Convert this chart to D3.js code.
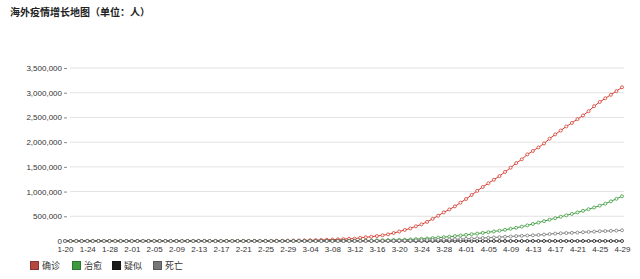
<!DOCTYPE html>
<html>
<head>
<meta charset="utf-8">
<script src="https://cdn.jsdelivr.net/npm/d3@7"></script>
<style>
  body { margin: 0; background: #fff; }
  svg { display: block; font-family: "Liberation Sans", Arial, "Noto Sans CJK SC", sans-serif; }
  .title { font-family: "Noto Sans CJK SC", sans-serif; font-weight: bold; }
  .legend text { font-family: "Noto Sans CJK SC", sans-serif; }
</style>
</head>
<body>
<script>
// dates (2020-01-20 .. 2020-04-29)
var dates = [
  "1-20","1-21","1-22","1-23","1-24","1-25","1-26","1-27","1-28","1-29","1-30","1-31",
  "2-01","2-02","2-03","2-04","2-05","2-06","2-07","2-08","2-09","2-10","2-11","2-12","2-13","2-14","2-15",
  "2-16","2-17","2-18","2-19","2-20","2-21","2-22","2-23","2-24","2-25","2-26","2-27","2-28","2-29",
  "3-01","3-02","3-03","3-04","3-05","3-06","3-07","3-08","3-09","3-10","3-11","3-12","3-13","3-14","3-15",
  "3-16","3-17","3-18","3-19","3-20","3-21","3-22","3-23","3-24","3-25","3-26","3-27","3-28","3-29","3-30","3-31",
  "4-01","4-02","4-03","4-04","4-05","4-06","4-07","4-08","4-09","4-10","4-11","4-12","4-13","4-14","4-15",
  "4-16","4-17","4-18","4-19","4-20","4-21","4-22","4-23","4-24","4-25","4-26","4-27","4-28","4-29"
];

var confirmed = [
  4, 6, 7, 10, 20, 29, 40, 47, 57, 69, 83, 111,
  132, 148, 153, 172, 196, 214, 269, 288, 307, 320, 393, 441, 447, 505, 526,
  685, 794, 804, 924, 1073, 1200, 1402, 1769, 2069, 2459, 2918, 3664, 4691, 6655,
  8437, 10170, 12579, 14734, 17345, 21094, 25051, 28972, 32701, 37705, 44944, 47411, 64248, 75117, 86443,
  100494, 116084, 133808, 161552, 190916, 223219, 254520, 296733, 336450, 385992, 447809, 511394, 578694, 638018, 700191, 775208,
  850244, 931034, 1013406, 1093517, 1167152, 1238816, 1313758, 1397393, 1482395, 1574585, 1652636, 1751587, 1821625, 1892885, 1972698,
  2069034, 2156430, 2233971, 2317573, 2388442, 2465441, 2540200, 2625001, 2727294, 2812837, 2887563, 2957846, 3032458, 3109942
];

var recovered = [
  0, 0, 0, 0, 0, 0, 0, 1, 1, 2, 3, 5,
  6, 7, 8, 10, 12, 15, 18, 22, 26, 30, 35, 40, 46, 55, 62,
  70, 80, 100, 120, 150, 180, 220, 260, 300, 350, 420, 500, 600, 720,
  900, 1200, 1500, 1900, 2300, 2800, 3300, 3900, 4500, 5200, 6000, 7000, 8200, 9500, 11000,
  12500, 14500, 17000, 20000, 23000, 27000, 31000, 37000, 44000, 51000, 59000, 68000, 78000, 88000, 99000, 111000,
  124000, 137000, 150000, 164000, 178000, 193000, 209000, 227000, 247000, 268000, 291000, 316000, 344000, 373000, 402000,
  431000, 461000, 491000, 520000, 548000, 578000, 610000, 643000, 678000, 715000, 755000, 802000, 853000, 905000
];

var suspected = [
  0, 0, 0, 0, 0, 0, 0, 0, 0, 0, 0, 0,
  0, 0, 0, 0, 0, 0, 0, 0, 0, 0, 0, 0, 0, 0, 0,
  0, 0, 0, 0, 0, 0, 0, 0, 0, 0, 0, 0, 0, 0,
  0, 0, 0, 0, 0, 0, 0, 0, 0, 0, 0, 0, 0, 0, 0,
  0, 0, 0, 0, 0, 0, 0, 0, 0, 0, 0, 0, 0, 0, 0, 0,
  0, 0, 0, 0, 0, 0, 0, 0, 0, 0, 0, 0, 0, 0, 0,
  0, 0, 0, 0, 0, 0, 0, 0, 0, 0, 0, 0, 0, 0
];

var deaths = [
  0, 0, 0, 0, 0, 0, 0, 0, 0, 0, 0, 0,
  0, 1, 1, 1, 1, 1, 1, 1, 1, 1, 1, 1, 1, 2, 3,
  3, 3, 3, 5, 8, 11, 15, 20, 25, 35, 45, 60, 70, 86,
  110, 150, 190, 240, 300, 380, 480, 711, 820, 1000, 1230, 1548, 1900, 2300, 2900,
  3908, 4700, 5800, 6900, 8050, 9700, 11300, 13400, 15614, 18700, 21600, 24800, 27353, 30800, 34600, 39000,
  43896, 49500, 55600, 61000, 66045, 71000, 78000, 85500, 92119, 99000, 105000, 110500, 116142, 122000, 130000,
  140000, 150000, 156000, 161000, 165500, 171000, 177500, 184000, 190500, 197000, 201000, 205000, 211000, 217000
];

var seriesNames = ["确诊", "治愈", "疑似", "死亡"];
var yTicks = [0, 500000, 1000000, 1500000, 2000000, 2500000, 3000000, 3500000];
var titleText = "海外疫情增长地图（单位：人）";

var lineColors = ["#d63a2c", "#3d9b3d", "#111111", "#7a7a7a"];
var legendColors = ["#b5473f", "#3f9a3f", "#1a1a1a", "#777777"];

var width = 640, height = 279;

var svg = d3.select("body").append("svg")
  .attr("width", width)
  .attr("height", height);

svg.append("text")
  .attr("class", "title")
  .attr("x", 10)
  .attr("y", 16)
  .attr("font-size", 10)
  .attr("fill", "#222")
  .text(titleText);

var x = d3.scalePoint().domain(dates).range([65, 622]);
var y = d3.scaleLinear().domain([0, 3500000]).range([241, 68]);

// grid lines
svg.append("g")
  .selectAll("line")
  .data(yTicks.slice(1))
  .enter().append("line")
  .attr("x1", 70)
  .attr("x2", 624)
  .attr("y1", function(d) { return y(d); })
  .attr("y2", function(d) { return y(d); })
  .attr("stroke", "#e2e2e2")
  .attr("stroke-width", 1);

// y axis
var yAxis = svg.append("g")
  .attr("transform", "translate(67,0)")
  .call(d3.axisLeft(y).tickValues(yTicks).tickSize(3).tickPadding(2).tickFormat(d3.format(",")));
yAxis.select(".domain").remove();
yAxis.selectAll("line").attr("stroke", "#888");
yAxis.selectAll("text").attr("font-size", 8).attr("fill", "#333")
  .attr("font-family", "'Liberation Sans', Arial, sans-serif");

// x axis
var xAxis = svg.append("g")
  .attr("transform", "translate(0,241)")
  .call(d3.axisBottom(x)
    .tickValues(dates.filter(function(d, i) { return i % 4 === 0; }))
    .tickSize(0).tickPadding(5));
xAxis.select(".domain").remove();
xAxis.selectAll("text").attr("font-size", 8).attr("fill", "#333")
  .attr("font-family", "'Liberation Sans', Arial, sans-serif");

// lines + points
var allSeries = [confirmed, recovered, suspected, deaths];
var line = d3.line()
  .x(function(d, i) { return x(dates[i]); })
  .y(function(d) { return y(d); });

allSeries.forEach(function(values, k) {
  var g = svg.append("g");
  g.append("path")
    .datum(values)
    .attr("fill", "none")
    .attr("stroke", lineColors[k])
    .attr("stroke-width", 1)
    .attr("d", line);
  g.selectAll("circle")
    .data(values)
    .enter().append("circle")
    .attr("cx", function(d, i) { return x(dates[i]); })
    .attr("cy", function(d) { return y(d); })
    .attr("r", 1.5)
    .attr("fill", "#fff")
    .attr("stroke", lineColors[k])
    .attr("stroke-width", 0.8);
});

// legend
var legendX = [30, 72, 112, 153];
var legend = svg.append("g").attr("class", "legend");
seriesNames.forEach(function(name, k) {
  legend.append("rect")
    .attr("x", legendX[k] + 0.5)
    .attr("y", 261.5)
    .attr("width", 8)
    .attr("height", 8)
    .attr("fill", legendColors[k])
    .attr("stroke", d3.color(legendColors[k]).darker(0.8))
    .attr("stroke-width", 1);
  legend.append("text")
    .attr("x", legendX[k] + 12)
    .attr("y", 269)
    .attr("font-size", 9)
    .attr("fill", "#333")
    .text(name);
});
</script>
</body>
</html>
